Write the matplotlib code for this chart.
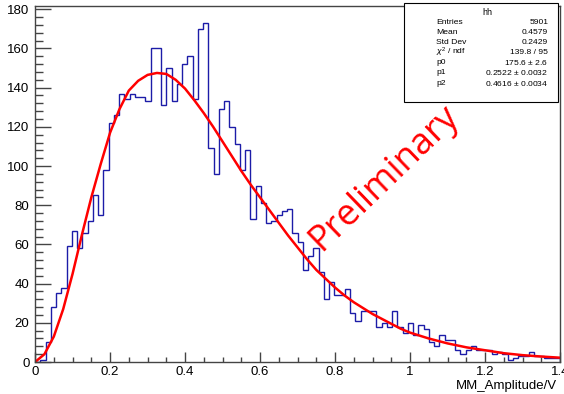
import numpy as np
import matplotlib
matplotlib.use('Agg')
from matplotlib import pyplot as plt
from matplotlib.patches import Rectangle
from matplotlib.ticker import MultipleLocator, FixedLocator, FixedFormatter

# histogram "hh": 100 bins between 0 and 1.4
x_range = (0.0, 1.4)
n_bins = 100
counts = [
	0, 1, 10, 28, 35, 38, 59, 67, 58, 66,
	72, 85, 75, 98, 122, 126, 137, 134, 137, 135,
	135, 133, 160, 160, 131, 150, 133, 142, 152, 156,
	134, 170, 173, 109, 96, 129, 133, 120, 111, 98,
	108, 73, 90, 81, 71, 72, 75, 77, 78, 66,
	61, 47, 54, 58, 46, 32, 41, 34, 34, 37,
	25, 21, 26, 26, 26, 18, 20, 18, 26, 18,
	15, 20, 14, 19, 17, 10, 8, 14, 11, 11,
	6, 4, 6, 8, 6, 6, 6, 4, 5, 4,
	1, 2, 3, 3, 5, 3, 3, 2, 2, 2,
]

# fitted curve
fit_x = [0.0, 0.025, 0.05, 0.075, 0.1, 0.125, 0.15, 0.175, 0.2, 0.225, 0.25, 0.275,
	0.3, 0.325, 0.35, 0.375, 0.4, 0.425, 0.45, 0.475, 0.5, 0.525, 0.55, 0.575,
	0.6, 0.625, 0.65, 0.675, 0.7, 0.725, 0.75, 0.775, 0.8, 0.825, 0.85, 0.875,
	0.9, 0.925, 0.95, 0.975, 1.0, 1.05, 1.1, 1.15, 1.2, 1.25, 1.3, 1.35, 1.4]
fit_y = [0, 4, 13, 27, 45, 65, 84, 101, 117, 129, 138.5, 143.5,
	146.5, 147.5, 147, 144, 139.5, 133.5, 127, 120, 112.5, 105, 97.5, 90.5,
	84, 77.5, 71, 64.5, 58.5, 52.5, 47, 42.5, 38, 34, 30.5, 27.5,
	24.5, 22, 19.5, 17, 15, 12, 9.5, 7.5, 6, 4.5, 3.5, 2.8, 2.2]

xtick_vals = [0, 0.2, 0.4, 0.6, 0.8, 1.0, 1.2, 1.4]
xtick_labels = ['0', '0.2', '0.4', '0.6', '0.8', '1', '1.2', '1.4']

stat_names = ['Entries', 'Mean', 'Std Dev', r'$\chi^2$ / ndf', 'p0', 'p1', 'p2']
stat_values = ['5901', '0.4579', '0.2429', '139.8 / 95', '175.6 $\\pm$ 2.6',
	'0.2522 $\\pm$ 0.0032', '0.4616 $\\pm$ 0.0034']

FONT = 'Liberation Sans'


def main():
	plt.rcParams['font.family'] = [FONT, 'DejaVu Sans']
	plt.rcParams['mathtext.fontset'] = 'custom'
	plt.rcParams['mathtext.rm'] = FONT
	plt.rcParams['mathtext.it'] = FONT + ':italic'

	fig = plt.figure(figsize=(5.64, 3.94), dpi=100)
	ax = fig.add_axes([0.0622, 0.0812, 0.9307, 0.9035])

	edges = np.linspace(x_range[0], x_range[1], n_bins + 1)
	ax.stairs(counts, edges, color='#1c1ca8', linewidth=1.0, baseline=0)
	ax.plot(fit_x, fit_y, color='#ff0000', linewidth=1.8)

	ax.set_xlim(*x_range)
	ax.set_ylim(0, 1.05 * max(counts))

	ax.xaxis.set_major_locator(FixedLocator(xtick_vals))
	ax.xaxis.set_major_formatter(FixedFormatter(xtick_labels))
	ax.xaxis.set_minor_locator(MultipleLocator(0.05))
	ax.yaxis.set_major_locator(MultipleLocator(20))
	ax.yaxis.set_minor_locator(MultipleLocator(4))

	ax.tick_params(axis='x', which='major', direction='in', length=7.5, width=1, labelsize=9.5, pad=3, color='#444444')
	ax.tick_params(axis='x', which='minor', direction='in', length=3.8, width=1, color='#444444')
	ax.tick_params(axis='y', which='major', direction='in', length=11.5, width=1, labelsize=9.5, pad=4, color='#444444')
	ax.tick_params(axis='y', which='minor', direction='in', length=5.8, width=1, color='#444444')
	for s in ax.spines.values():
		s.set_linewidth(1.0)
		s.set_color('#444444')

	fig.text(0.987, 0.005, 'MM_Amplitude/V', ha='right', va='bottom', fontsize=9.5)

	# stats box
	fig.patches.append(Rectangle((0.716, 0.741), 0.273, 0.251, transform=fig.transFigure,
		facecolor='white', edgecolor='black', linewidth=0.8, zorder=5))
	fig.text(0.865, 0.968, 'hh', ha='center', va='center', fontsize=6.5, zorder=6)
	for i, (n, v) in enumerate(zip(stat_names, stat_values)):
		yy = 0.944 - i * 0.0258
		fig.text(0.773, yy, n, ha='left', va='center', fontsize=6.1, zorder=6)
		fig.text(0.972, yy, v, ha='right', va='center', fontsize=6.1, zorder=6)

	fig.text(0.682, 0.548, 'Preliminary', color='#ff0000', fontsize=26, rotation=44,
		ha='center', va='center', rotation_mode='anchor', family=['Open Sans', 'DejaVu Sans'])

	fig.savefig('out.png', dpi=100, facecolor='white')


main()
